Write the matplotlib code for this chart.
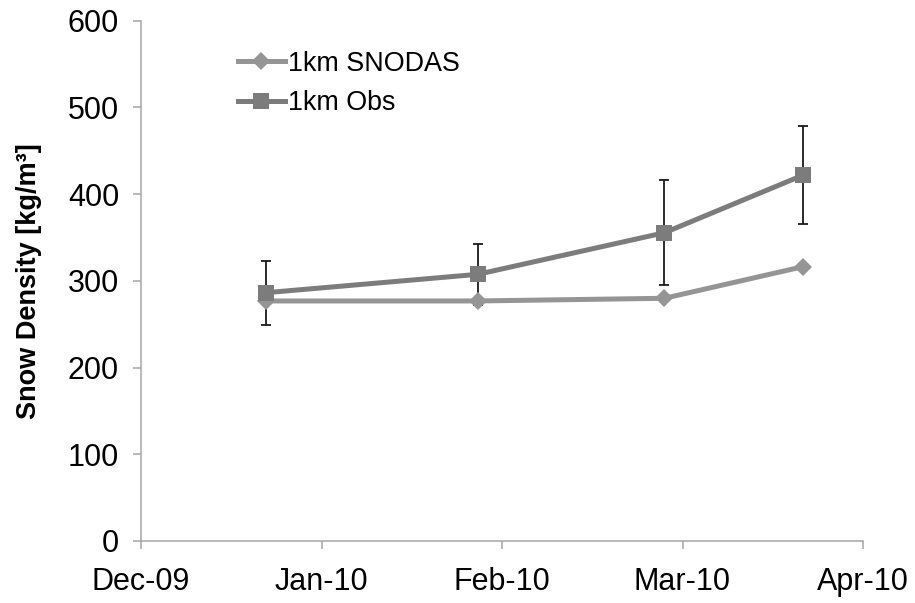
import matplotlib
matplotlib.use("Agg")
import matplotlib.pyplot as plt

plt.rcParams['font.family'] = ['Liberation Sans', 'DejaVu Sans']

# Data (x in months from 1 Dec 2009)
tick_labels = ["Dec-09", "Jan-10", "Feb-10", "Mar-10", "Apr-10"]
x_obs = [0.69, 1.865, 2.90, 3.667]
snodas = [276.8, 276.8, 279.9, 316.3]
obs = [286.3, 307.5, 355.5, 421.8]
obs_err = [37.1, 34.9, 60.5, 56.7]

W, H = 915, 603
left, right, bottom, top = 141, 863, 541, 20.7
fig = plt.figure(figsize=(W / 100, H / 100), dpi=100)
ax = fig.add_axes([left / W, (H - bottom) / H, (right - left) / W, (bottom - top) / H])

ax.errorbar(x_obs, obs, yerr=obs_err, fmt='none', ecolor='#1a1a1a',
            elinewidth=1.3, capsize=3.9, capthick=1.3, zorder=2)
ax.plot(x_obs, snodas, color='#959595', lw=3.6, marker='D', ms=9.5,
        markeredgewidth=0, label='1km SNODAS', zorder=3)
ax.plot(x_obs, obs, color='#7c7c7c', lw=3.6, marker='s', ms=12,
        markeredgewidth=0, label='1km Obs', zorder=4)

ax.set_xlim(0, 4)
ax.set_ylim(0, 600)
ax.set_xticks(range(len(tick_labels)))
ax.set_xticklabels(tick_labels)
ax.set_yticks(range(0, 601, 100))

for s in ['top', 'right']:
    ax.spines[s].set_visible(False)
for s in ['left', 'bottom']:
    ax.spines[s].set_color('#a6a6a6')
    ax.spines[s].set_linewidth(1.1)
ax.tick_params(axis='both', direction='out', length=5.8, width=1.1,
               color='#a6a6a6', labelsize=22, labelcolor='black')
ax.tick_params(axis='x', pad=13)
ax.tick_params(axis='y', pad=10)

ax.set_ylabel('Snow Density [kg/m³]', fontsize=19.5, fontweight='bold')
ax.yaxis.set_label_coords(-0.137, 0.5)

leg = ax.legend(loc='upper left', bbox_to_anchor=(0.134, 0.942), frameon=False,
                fontsize=19.4, handlelength=1.74, handletextpad=0.11,
                labelspacing=0.5, borderaxespad=0, borderpad=0)

fig.savefig('out.png', dpi=100)
